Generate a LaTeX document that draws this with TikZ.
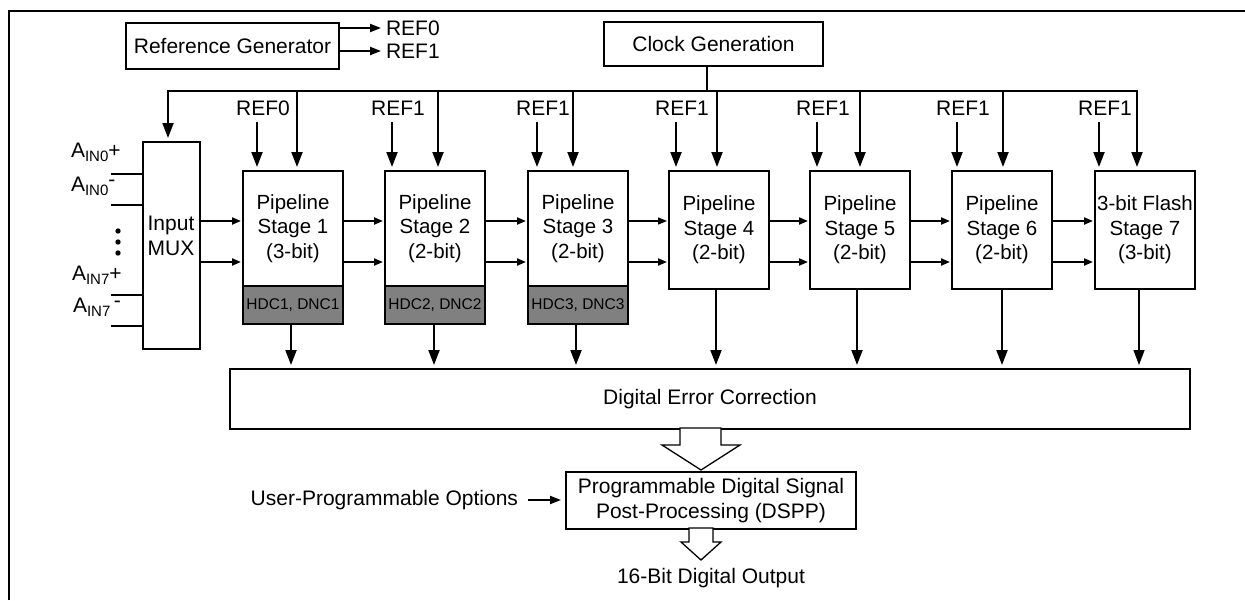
\documentclass[tikz,border=0pt]{standalone}
\usepackage{fontspec}
\setmainfont{Liberation Sans}
\usetikzlibrary{arrows.meta}
\definecolor{hdcgray}{RGB}{128,128,128}
\begin{document}
\begin{tikzpicture}[x=1pt,y=-1pt,line width=2pt,
  txt/.style={inner sep=0pt,align=center,font=\fontsize{21}{24.5}\selectfont},
  box/.style={draw,line width=2pt,fill=white,anchor=north west,inner sep=0pt,align=center,font=\fontsize{21}{24.5}\selectfont},
  stagebox/.style={box,font=\fontsize{20.5}{24.5}\selectfont,minimum width=100pt},
  gbox/.style={draw,line width=2pt,fill=hdcgray,anchor=north west,inner sep=0pt,align=center,font=\fontsize{15.5}{18}\selectfont,minimum width=100pt,minimum height=38pt},
  varr/.style={-{Triangle[length=15pt,width=11pt]},shorten >=3pt},
  harr/.style={-{Triangle[length=9pt,width=7pt]},shorten >=1pt},
  rarr/.style={-{Triangle[length=11pt,width=8pt]},shorten >=4pt},
  blk/.style={draw,line width=1.3pt,fill=white,line join=miter}]
\useasboundingbox (0,0) rectangle (1245,600);
% frame
\draw[line width=2.5pt] (9,600) -- (9,11) -- (1245,11);
% reference generator
\node[box,minimum width=213pt,minimum height=46pt] (refgen) at (125,22) {Reference Generator};
\coordinate (r0) at (385,28);
\coordinate (r1) at (385,51);
\draw[rarr] (r0 -| refgen.east) -- (r0);
\draw[rarr] (r1 -| refgen.east) -- (r1);
\node[txt,anchor=west] (lr0) at (r0) {REF0};
\node[txt,anchor=west] (lr1) at (r1) {REF1};
% clock generation
\node[box,minimum width=219pt,minimum height=44pt] (clk) at (603,21) {Clock Generation};
\coordinate (busL) at (168,91);
\coordinate (busR) at (1137,91);
\coordinate (cj) at ([xshift=-6.5pt]clk.south);
\draw (cj) -- (cj |- busL);
\draw[line cap=rect] (busL) -- (busR);
% input mux
\node[box,minimum width=57pt,minimum height=207pt] (mux) at (142,141) {};
\node[txt] (muxt) at (171,236) {Input\\MUX};
\draw[varr] (busL) -- (busL |- mux.north);
% analog inputs
\foreach \yy in {174,205,295,326}{
  \coordinate (ia) at (111,\yy);
  \draw (ia) -- (ia -| mux.west);
}
\node[txt,anchor=west] (a0p) at (70,152) {A\raisebox{-4pt}{\fontsize{15}{15}\selectfont IN0}+};
\node[txt,anchor=west] (a0m) at (70,186) {A\raisebox{-4pt}{\fontsize{15}{15}\selectfont IN0}\raisebox{5pt}{-}};
\node[txt,anchor=west] (a7p) at (71,275) {A\raisebox{-4pt}{\fontsize{15}{15}\selectfont IN7}+};
\node[txt,anchor=west] (a7m) at (72,307) {A\raisebox{-4pt}{\fontsize{15}{15}\selectfont IN7}\,\raisebox{5pt}{-}};
\foreach \yy in {231,242,253}{\fill (118,\yy) circle (2.7pt);}
% pipeline stages
\node[stagebox,minimum height=115pt] (s1) at (242,170) {Pipeline\\Stage 1\\(3-bit)};
\node[gbox] (g1) at (242,285) {HDC1, DNC1};
\node[stagebox,minimum height=115pt] (s2) at (384,170) {Pipeline\\Stage 2\\(2-bit)};
\node[gbox] (g2) at (384,285) {HDC2, DNC2};
\node[stagebox,minimum height=115pt] (s3) at (527,170) {Pipeline\\Stage 3\\(2-bit)};
\node[gbox] (g3) at (527,285) {HDC3, DNC3};
\node[stagebox,minimum height=118pt] (s4) at (668,170) {Pipeline\\Stage 4\\(2-bit)};
\node[stagebox,minimum height=118pt] (s5) at (809,170) {Pipeline\\Stage 5\\(2-bit)};
\node[stagebox,minimum height=118pt] (s6) at (951,170) {Pipeline\\Stage 6\\(2-bit)};
\node[stagebox,minimum height=118pt] (s7) at (1094,170) {3-bit Flash\\Stage 7\\(3-bit)};
% digital error correction
\node[box,minimum width=960pt,minimum height=60pt] (dec) at (229,368) {Digital Error Correction};
% horizontal data arrows
\coordinate (h1) at (0,221);
\coordinate (h2) at (0,262);
\foreach \a/\b/\w in {mux/s1/2pt,s1/s2/2pt,s2/s3/2pt,s3/s4/1.2pt,s4/s5/2pt,s5/s6/2pt,s6/s7/2pt}{
  \draw[harr,line width=\w] (\a.east |- h1) -- (\b.west |- h1);
  \draw[harr] (\a.east |- h2) -- (\b.west |- h2);
}
% vertical arrows of each stage
\foreach \i/\r/\c/\b/\l/\src/\w in {1/15/55/49/REF0/g1/2pt,2/8/54/50/REF1/g2/2pt,3/10/46/49/REF1/g3/2pt,4/8/49/48/REF1/s4/2pt,5/8/51/48/REF1/s5/2pt,6/6/52/51/REF1/s6/2pt,7/5/43/45/REF1/s7/1.3pt}{
  \coordinate (t) at ([xshift=\r pt]s\i.north west);
  \draw[varr] ([yshift=48pt]t) -- (t);
  \node[txt] at ([xshift=6pt,yshift=62pt]t) {\l};
  \coordinate (k) at ([xshift=\c pt]s\i.north west);
  \draw[varr] (k |- busL) -- (k);
  \coordinate (d) at ([xshift=\b pt]\src.south west);
  \draw[varr,line width=\w] (d) -- (d |- dec.north);
}
% DSPP
\node[box,minimum width=290pt,minimum height=57pt] (dspp) at (565,471) {Programmable Digital Signal\\Post-Processing (DSPP)};
\draw[blk] (680,428) -- (721,428) -- (721,445) -- (740,445) -- (701,470) -- (662,445) -- (680,445) -- cycle;
\node[txt,anchor=east] (upo) at (519,500) {User-Programmable Options};
\draw[-{Triangle[length=11pt,width=8pt]},shorten <=9pt,shorten >=4pt] (upo.east) -- (upo.east -| dspp.west);
\draw[blk] (689,528) -- (713,528) -- (713,542) -- (721,542) -- (701,560) -- (681,542) -- (689,542) -- cycle;
\node[txt] (out) at (711,578) {16-Bit Digital Output};
\end{tikzpicture}
\end{document}
